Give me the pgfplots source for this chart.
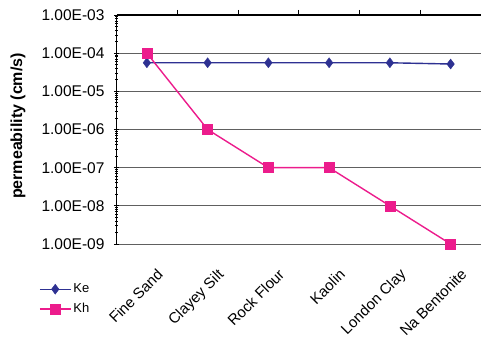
\documentclass[border=0pt]{standalone}
\usepackage{pgfplots}
\pgfplotsset{compat=1.18}
\usepackage{fontspec}
\setmainfont{Liberation Sans}
\definecolor{kecol}{RGB}{46,49,146}
\definecolor{khcol}{RGB}{236,28,140}
\begin{document}
\begin{tikzpicture}
\path[use as bounding box] (-116.5bp,-96bp) rectangle (364.5bp,244bp);
\begin{axis}[
  at={(0,0)}, anchor=south west,
  scale only axis, width=364.5bp, height=229bp,
  xmin=0.5, xmax=6.5,
  ymode=log, ymin=1e-9, ymax=1e-3,
  axis x line*=bottom, axis y line*=left,
  x axis line style={draw=none},
  y axis line style={black, line width=0.9bp},
  xtick={1,2,3,4,5,6},
  xticklabels={Fine Sand,Clayey Silt,Rock Flour,Kaolin,London Clay,Na Bentonite},
  xtick style={draw=none},
  xticklabel style={shift={(17bp,-29bp)}, rotate=45, anchor=base east, inner sep=0pt, font=\fontsize{15bp}{17bp}\selectfont},
  ytick={1e-9,1e-8,1e-7,1e-6,1e-5,1e-4,1e-3},
  yticklabels={1.00E-09,1.00E-08,1.00E-07,1.00E-06,1.00E-05,1.00E-04,1.00E-03},
  ytick style={black, line width=0.8bp},
  tick align=center, major tick length=5bp,
  yticklabel style={xshift=-6bp, font=\fontsize{15.5bp}{17bp}\selectfont},
  ymajorgrids, grid style={gray!75!black, line width=0.9bp},
  ylabel={\bfseries permeability (cm/s)},
  ylabel style={at={(axis description cs:-0.270,0.515)}, anchor=center, font=\fontsize{16bp}{18bp}\selectfont},
  clip=false,
  legend style={at={(axis description cs:-0.213,-0.165)}, anchor=north west, draw=none, fill=none,
    font=\fontsize{13bp}{15bp}\selectfont, row sep=5bp, inner sep=0pt,
    /tikz/every even column/.append style={column sep=2bp}},
  legend image code/.code={\draw[mark repeat=2,mark phase=2] plot coordinates {(0bp,0bp) (15.5bp,0bp) (31bp,0bp)};},
  legend cell align=left,
]
\addplot[kecol, line width=1.4bp, mark=diamond*, mark size=5bp, mark options={fill=kecol, draw=kecol, line width=0.4bp}]
  coordinates {(1,5.6e-5) (2,5.6e-5) (3,5.6e-5) (4,5.6e-5) (5,5.6e-5) (6,5.2e-5)};
\addlegendentry{Ke}
\addplot[khcol, line width=1.4bp, mark=square*, mark size=5bp, mark options={fill=khcol, draw=khcol, line width=0.4bp}]
  coordinates {(1,1e-4) (2,1e-6) (3,1e-7) (4,1e-7) (5,1e-8) (6,1e-9)};
\addlegendentry{Kh}
\end{axis}
\begin{axis}[
  at={(0,0)}, anchor=south west,
  scale only axis, width=364.5bp, height=229bp,
  xmin=0.5, xmax=6.5, ymin=0, ymax=1,
  axis x line*=top, axis y line=none,
  x axis line style={black, line width=2bp},
  xtick={1.5,2.5,3.5,4.5,5.5}, xticklabels={},
  xtick style={black, line width=0.8bp},
  tick align=outside, major tick length=5bp,
]
\end{axis}
\end{tikzpicture}
\end{document}
